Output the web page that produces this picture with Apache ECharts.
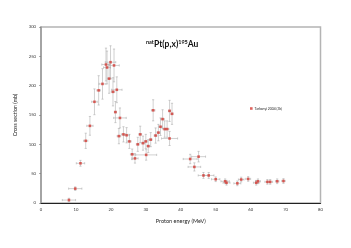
<!DOCTYPE html>
<html>
<head>
<meta charset="utf-8">
<script src="https://cdn.jsdelivr.net/npm/echarts@6/dist/echarts.min.js"></script>
<style>html,body{margin:0;padding:0;background:#fff;}#c{width:351px;height:248px;}</style>
</head>
<body>
<div id="c"></div>
<script>
var energy =    [8.0, 9.8, 11.3, 12.8, 14.0, 15.3, 16.5, 17.6, 18.6, 18.9, 19.5, 19.9, 20.6, 20.9, 21.7, 21.3, 22.6, 22.3, 23.6, 24.5, 25.3, 26.1, 26.9, 27.7, 28.4, 29.2, 30.0, 30.1, 30.7, 31.4, 32.1, 32.8, 33.6, 34.2, 34.8, 35.4, 36.1, 36.8, 37.5, 36.8, 42.7, 43.9, 45.1, 46.5, 48.0, 50.0, 52.7, 53.1, 56.2, 57.3, 59.3, 61.6, 62.1, 64.8, 65.6, 67.6, 69.4];
var energyErr = [1.9, 1.9, 1.2, 0.6, 0.9, 0.8, 0.5, 1.0, 1.2, 1.0, 0.5, 1.5, 0.5, 1.5, 1.5, 0.3, 1.8, 0.5, 0.6, 0.8, 0.5, 0.5, 0.9, 0.4, 0.4, 0.5, 0.4, 3.0, 0.4, 0.4, 0.5, 0.4, 0.4, 0.5, 0.5, 0.5, 0.5, 0.3, 0.3, 2.3, 2.0, 1.8, 2.0, 1.5, 1.5, 1.2, 1.2, 1.0, 1.0, 0.8, 0.7, 0.8, 0.7, 0.7, 0.7, 0.5, 0.5];
var sigma =     [5, 24.5, 67.7, 106, 131.5, 172.5, 192, 203, 236, 231, 212, 240, 189.5, 234.5, 193, 155, 145, 114, 117, 115.5, 105, 83, 76, 100, 117, 102, 105, 82, 97, 108, 158, 115, 120, 130, 143, 126, 126, 157, 152, 110, 75, 61.5, 79, 47, 47, 40.5, 37, 34.5, 33.5, 40, 41, 34.5, 37, 36, 36, 37, 37.5];
var sigmaErr =  [3, 3, 5, 13, 16, 22, 25, 26, 28, 28, 25, 28, 24, 28, 22, 18, 17, 13, 13, 13, 12, 9, 8, 12, 14, 12, 12, 9, 11, 12, 18, 13, 14, 15, 16, 14, 14, 18, 18, 12, 8, 7, 9, 5, 5, 4, 4, 4, 4, 4, 4, 4, 4, 4, 4, 4, 4];
var xTicks = [0, 10, 20, 30, 40, 50, 60, 70, 80];
var yTicks = [0, 50, 100, 150, 200, 250, 300];
var seriesName = 'Tarkanyi 2004 (3k)';

var pts = energy.map(function(e, i){ return [e, sigma[i], energyErr[i], sigmaErr[i]]; });
var font = 'Lato, "Open Sans", sans-serif';

var chart = echarts.init(document.getElementById('c'), null, {renderer: 'canvas'});
chart.setOption({
  animation: false,
  backgroundColor: '#fff',
  title: {
    text: '{s|nat}{b|Pt(p,x)}{s|195}{b|Au}',
    left: 141, top: 34,
    textStyle: {
      fontFamily: font,
      rich: {
        b: {fontSize: 8.5, fontWeight: 'bold', color: '#111', fontFamily: font},
        s: {fontSize: 5.5, fontWeight: 'bold', color: '#111', fontFamily: font, verticalAlign: 'top', padding: [0,0,4,0]}
      }
    }
  },
  legend: {
    data: [{name: seriesName, icon: 'rect'}],
    left: 245, top: 102,
    itemWidth: 2.6, itemHeight: 2.6, itemGap: 2,
    textStyle: {fontSize: 3.4, color: '#222', fontFamily: font, padding: [0,0,0,-3]}
  },
  grid: {
    left: 41, right: 30.5, top: 27, bottom: 45,
    show: true, borderColor: '#b4b4b4', borderWidth: 1.5
  },
  xAxis: {
    type: 'value', min: xTicks[0], max: xTicks[xTicks.length-1], interval: 10,
    name: 'Proton energy (MeV)', nameLocation: 'middle', nameGap: 15,
    nameTextStyle: {fontSize: 5.5, color: '#222', fontFamily: font},
    axisLine: {show: true, lineStyle: {color: '#222', width: 1}},
    axisTick: {show: false},
    axisLabel: {fontSize: 4.2, color: '#333', margin: 5, fontFamily: font},
    splitLine: {show: false}
  },
  yAxis: {
    type: 'value', min: yTicks[0], max: yTicks[yTicks.length-1], interval: 50,
    name: 'Cross section (mb)', nameLocation: 'middle', nameGap: 16,
    nameTextStyle: {fontSize: 5.3, color: '#222', fontFamily: font},
    axisLine: {show: true, lineStyle: {color: '#999', width: 1.5}},
    axisTick: {show: true, inside: false, length: 2, lineStyle: {color: '#777', width: 0.6}},
    axisLabel: {fontSize: 4.2, color: '#333', margin: 5, fontFamily: font},
    splitLine: {show: false}
  },
  series: [
    {
      type: 'custom',
      name: 'err',
      data: pts,
      encode: {x: 0, y: 1},
      silent: true,
      z: 2,
      renderItem: function(params, api){
        var x = api.value(0), y = api.value(1), dx = api.value(2), dy = api.value(3);
        var c = api.coord([x, y]);
        var l = api.coord([x - dx, y]), r = api.coord([x + dx, y]);
        var t = api.coord([x, y + dy]), b = api.coord([x, y - dy]);
        var cap = 1.1;
        var st = {stroke: '#a8a8a8', lineWidth: 0.55};
        return {type: 'group', children: [
          {type: 'line', shape: {x1: l[0], y1: c[1], x2: r[0], y2: c[1]}, style: st},
          {type: 'line', shape: {x1: l[0], y1: c[1]-cap, x2: l[0], y2: c[1]+cap}, style: st},
          {type: 'line', shape: {x1: r[0], y1: c[1]-cap, x2: r[0], y2: c[1]+cap}, style: st},
          {type: 'line', shape: {x1: c[0], y1: t[1], x2: c[0], y2: b[1]}, style: st},
          {type: 'line', shape: {x1: c[0]-cap, y1: t[1], x2: c[0]+cap, y2: t[1]}, style: st},
          {type: 'line', shape: {x1: c[0]-cap, y1: b[1], x2: c[0]+cap, y2: b[1]}, style: st}
        ]};
      }
    },
    {
      type: 'scatter',
      name: seriesName,
      data: pts.map(function(p){ return [p[0], p[1]]; }),
      symbol: 'rect',
      symbolSize: 2.6,
      z: 3,
      itemStyle: {color: '#d43c36', borderWidth: 0}
    }
  ]
});
</script>
</body>
</html>
